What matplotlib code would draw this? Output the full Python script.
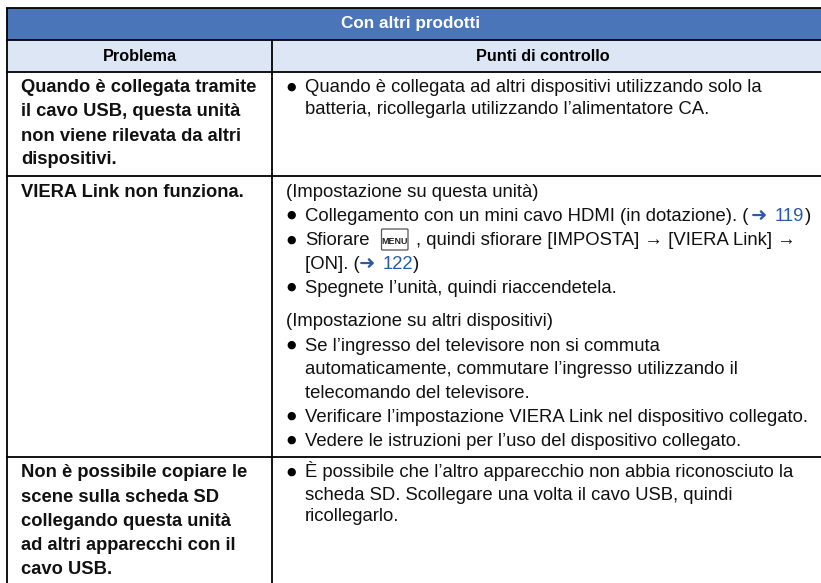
import matplotlib
matplotlib.use("Agg")
import matplotlib.pyplot as plt
from matplotlib.patches import FancyBboxPatch, Rectangle

plt.rcParams["font.family"] = ["Liberation Sans", "DejaVu Sans"]

W, H = 821, 583

title = "Con altri prodotti"
col_heads = ["Problema", "Punti di controllo"]

# baseline y, text
problems = [
    (92, "Quando è collegata tramite"),
    (116.5, "il cavo USB, questa unità"),
    (141, "non viene rilevata da altri"),
    (164.5, "dispositivi."),
    (196.7, "VIERA Link non funziona."),
    (477.3, "Non è possibile copiare le"),
    (501.7, "scene sulla scheda SD"),
    (526, "collegando questa unità"),
    (550, "ad altri apparecchi con il"),
    (574, "cavo USB."),
]

# baseline y, bullet, x, text
checks = [
    (92, True, 305, "Quando è collegata ad altri dispositivi utilizzando solo la"),
    (114, False, 305, "batteria, ricollegarla utilizzando l’alimentatore CA."),
    (196.7, False, 286, "(Impostazione su questa unità)"),
    (220.7, True, 305, "Collegamento con un mini cavo HDMI (in dotazione). ("),
    (245, True, 305, "Sfiorare"),
    (269, False, 305, "[ON]. ("),
    (292.7, True, 305, "Spegnete l’unità, quindi riaccendetela."),
    (326, False, 286, "(Impostazione su altri dispositivi)"),
    (350.7, True, 305, "Se l’ingresso del televisore non si commuta"),
    (374.3, False, 305, "automaticamente, commutare l’ingresso utilizzando il"),
    (398.3, False, 305, "telecomando del televisore."),
    (421.7, True, 305, "Verificare l’impostazione VIERA Link nel dispositivo collegato."),
    (445.7, True, 305, "Vedere le istruzioni per l’uso del dispositivo collegato."),
    (477.3, True, 305, "È possibile che l’altro apparecchio non abbia riconosciuto la"),
    (499.5, False, 305, "scheda SD. Scollegare una volta il cavo USB, quindi"),
    (521, False, 305, "ricollegarlo."),
]

# page references: baseline y, arrow x, number x, number, closing bracket x
page_refs = [
    (220.7, 751, 775, "119", 805),
    (269, 359, 383, "122", 413),
]

BLUE = "#2a5aa8"
FS = 13.36

fig = plt.figure(figsize=(W / 100, H / 100), dpi=100)
ax = fig.add_axes([0, 0, 1, 1])
ax.set_xlim(0, W)
ax.set_ylim(H, 0)
ax.axis("off")

left, mid, right = 7, 271.7, W
top, head1, head2, row1, row2, bottom = 8, 40, 71.5, 175.7, 457, H

ax.add_patch(Rectangle((left, top), right - left, head1 - top, fc="#4a76b9", ec="none"))
ax.add_patch(Rectangle((left, head1), right - left, head2 - head1, fc="#dce6f4", ec="none"))

for y in [top, head1, head2, row1, row2]:
    ax.plot([left - 1, right], [y, y], color="black", lw=1.3, solid_capstyle="butt")
ax.plot([left, left], [top, bottom], color="black", lw=1.3, solid_capstyle="butt")
ax.plot([mid, mid], [head1, bottom], color="black", lw=1.3, solid_capstyle="butt")

ax.text(410.5, 28.3, title, color="white", fontsize=12.3, fontweight="bold", ha="center", va="baseline")
ax.text(139.7, 61, col_heads[0], fontsize=11.7, fontweight="bold", ha="center", va="baseline")
ax.text(543, 61, col_heads[1], fontsize=11.7, fontweight="bold", ha="center", va="baseline")

for y, line in problems:
    ax.text(21, y, line, fontsize=13.2, fontweight="bold", ha="left", va="baseline", color="#111111")

for y, bullet, x, line in checks:
    if bullet:
        ax.text(291.5, y - 2.6, "●", fontsize=7.8, ha="center", va="baseline", family="DejaVu Sans", color="black")
    ax.text(x, y, line, fontsize=FS, ha="left", va="baseline", color="#111111")

for y, ax_x, num_x, num, close_x in page_refs:
    ax.text(ax_x, y, "➜", fontsize=14, ha="left", va="baseline", color=BLUE, family="DejaVu Sans")
    ax.text(num_x, y, num, fontsize=FS, ha="left", va="baseline", color=BLUE)
    ax.text(close_x, y, ")", fontsize=FS, ha="left", va="baseline", color="#111111")

# MENU button on the Sfiorare line
ax.add_patch(FancyBboxPatch((381.5, 229), 26.5, 21, boxstyle="round,pad=0,rounding_size=1",
                            fc="white", ec="#555555", lw=0.9))
ax.text(394.7, 244, "MENU", fontsize=6.4, fontweight="bold", ha="center", va="baseline",
        color="#222222", family=["Liberation Sans Narrow", "Liberation Sans"])
ax.text(416.5, 245, ", quindi sfiorare [IMPOSTA] → [VIERA Link] →", fontsize=FS, ha="left", va="baseline", color="#111111")

fig.savefig("out.png", dpi=100)
